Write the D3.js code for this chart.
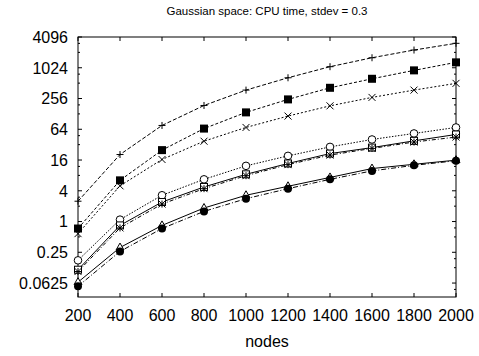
<!DOCTYPE html>
<html>
<head>
<meta charset="utf-8">
<script src="https://cdn.jsdelivr.net/npm/d3@7"></script>
<style>
  body { margin: 0; background: #fff; }
  text { font-family: "Liberation Sans", Arial, sans-serif; fill: #000; }
</style>
</head>
<body>
<div id="chart"></div>
<script>
// x values (nodes)
const nodes = [200, 400, 600, 800, 1000, 1200, 1400, 1600, 1800, 2000];

// series values (CPU time)
const plusSeries   = [2.5, 20.5, 76, 187, 374, 652, 1074, 1608, 2275, 3080];
const fsquareSeries = [0.73, 6.4, 25, 66, 137, 246, 415, 623, 910, 1306];
const crossSeries  = [0.58, 5.0, 16.4, 37.4, 69.5, 116, 184, 269, 374, 507];
const circleSeries = [0.174, 1.09, 3.27, 6.7, 12.3, 19.3, 28.9, 40.4, 53, 69.5];
const squareSeries = [0.114, 0.84, 2.41, 4.75, 8.4, 13.7, 21.4, 28, 38, 50.6];
const starSeries   = [0.105, 0.75, 2.2, 4.4, 7.9, 13, 20, 27, 36, 45];
const triSeries    = [0.065, 0.31, 0.84, 1.84, 3.27, 4.9, 7.3, 10.9, 13.2, 15.9];
const fcircleSeries = [0.054, 0.26, 0.73, 1.58, 2.8, 4.4, 6.7, 9.8, 12.6, 15.5];

const xTicks = [200, 400, 600, 800, 1000, 1200, 1400, 1600, 1800, 2000];
const yTicks = [0.0625, 0.25, 1, 4, 16, 64, 256, 1024, 4096];
const yTickLabels = ["0.0625", "0.25", "1", "4", "16", "64", "256", "1024", "4096"];

const series = [
    {values: plusSeries, marker: "plus", dash: "4,2"},
    {values: fsquareSeries, marker: "fsquare", dash: "3,2"},
    {values: crossSeries, marker: "cross", dash: "2,2"},
    {values: circleSeries, marker: "circle", dash: "1.5,1.5"},
    {values: squareSeries, marker: "square", dash: null},
    {values: starSeries, marker: "star", dash: "4,2,1,2"},
    {values: triSeries, marker: "triangle", dash: null},
    {values: fcircleSeries, marker: "fcircle", dash: "5,2,1,2"}
];

const width = 479, height = 356;
const margin = {top: 37, right: 23, bottom: 59, left: 78};
const w = width - margin.left - margin.right;
const h = height - margin.top - margin.bottom;

const svg = d3.select("#chart").append("svg")
    .attr("width", width)
    .attr("height", height);

const g = svg.append("g")
    .attr("transform", "translate(" + margin.left + "," + margin.top + ")");

const x = d3.scaleLinear().domain([200, 2000]).range([0, w]);
const y = d3.scaleLog().base(2).domain([1 / 30, 4096]).range([h, 0]);

// minor ticks at 2*4^n and 3*4^n
let minorY = [];
for (let n = -3; n <= 5; n++) {
    [2, 3].forEach(m => {
        let v = m * Math.pow(4, n);
        if (v > y.domain()[0] && v < 4096) minorY.push(v);
    });
}

// frame
g.append("rect")
    .attr("x", 0).attr("y", 0)
    .attr("width", w).attr("height", h)
    .attr("fill", "none").attr("stroke", "#000").attr("stroke-width", 1);

// y ticks left and right
const tickG = g.append("g").attr("stroke", "#000").attr("stroke-width", 1);
yTicks.forEach(v => {
    tickG.append("line").attr("x1", 0).attr("x2", 4).attr("y1", y(v)).attr("y2", y(v));
    tickG.append("line").attr("x1", w).attr("x2", w - 4).attr("y1", y(v)).attr("y2", y(v));
});
minorY.forEach(v => {
    tickG.append("line").attr("x1", 0).attr("x2", 2).attr("y1", y(v)).attr("y2", y(v));
    tickG.append("line").attr("x1", w).attr("x2", w - 2).attr("y1", y(v)).attr("y2", y(v));
});
xTicks.forEach(v => {
    tickG.append("line").attr("x1", x(v)).attr("x2", x(v)).attr("y1", h).attr("y2", h - 4);
    tickG.append("line").attr("x1", x(v)).attr("x2", x(v)).attr("y1", 0).attr("y2", 4);
});

// tick labels
g.selectAll(".ylab").data(yTicks).enter().append("text")
    .attr("class", "ylab")
    .attr("x", -10)
    .attr("y", d => y(d))
    .attr("dy", "0.36em")
    .attr("text-anchor", "end")
    .style("font-size", "16px")
    .text((d, i) => yTickLabels[i]);

g.selectAll(".xlab").data(xTicks).enter().append("text")
    .attr("class", "xlab")
    .attr("x", d => x(d))
    .attr("y", h + 24)
    .attr("text-anchor", "middle")
    .style("font-size", "16px")
    .text(d => d);

// axis title and chart title
svg.append("text")
    .attr("x", margin.left + w / 2)
    .attr("y", 347)
    .attr("text-anchor", "middle")
    .style("font-size", "16px")
    .text("nodes");

svg.append("text")
    .attr("x", margin.left + w / 2)
    .attr("y", 15)
    .attr("text-anchor", "middle")
    .style("font-size", "11.5px")
    .text("Gaussian space: CPU time, stdev = 0.3");

// lines
const line = d3.line()
    .x((d, i) => x(nodes[i]))
    .y(d => y(d));

const plot = g.append("g");

series.forEach(s => {
    plot.append("path")
        .datum(s.values)
        .attr("d", line)
        .attr("fill", "none")
        .attr("stroke", "#000")
        .attr("stroke-width", 1)
        .attr("stroke-dasharray", s.dash);
});

// markers
function drawMarker(sel, type, px, py) {
    let r = 3.5;
    if (type === "plus" || type === "star") {
        sel.append("path").attr("d", `M${px - r},${py}H${px + r}M${px},${py - r}V${py + r}`)
            .attr("stroke", "#000").attr("fill", "none");
    }
    if (type === "cross" || type === "star") {
        sel.append("path").attr("d", `M${px - r},${py - r}L${px + r},${py + r}M${px - r},${py + r}L${px + r},${py - r}`)
            .attr("stroke", "#000").attr("fill", "none");
    }
    if (type === "fsquare") {
        sel.append("rect").attr("x", px - 4).attr("y", py - 4).attr("width", 8).attr("height", 8)
            .attr("fill", "#000");
    }
    if (type === "square") {
        sel.append("rect").attr("x", px - 3.5).attr("y", py - 3.5).attr("width", 7).attr("height", 7)
            .attr("fill", "#fff").attr("stroke", "#000");
    }
    if (type === "circle") {
        sel.append("circle").attr("cx", px).attr("cy", py).attr("r", 3.8)
            .attr("fill", "#fff").attr("stroke", "#000");
    }
    if (type === "fcircle") {
        sel.append("circle").attr("cx", px).attr("cy", py).attr("r", 4)
            .attr("fill", "#000");
    }
    if (type === "triangle") {
        sel.append("path").attr("d", `M${px},${py - 4.5}L${px + 4},${py + 2.5}L${px - 4},${py + 2.5}Z`)
            .attr("fill", "#fff").attr("stroke", "#000");
    }
}

series.forEach(s => {
    let mg = plot.append("g");
    s.values.forEach((v, i) => drawMarker(mg, s.marker, x(nodes[i]), y(v)));
});
</script>
</body>
</html>
